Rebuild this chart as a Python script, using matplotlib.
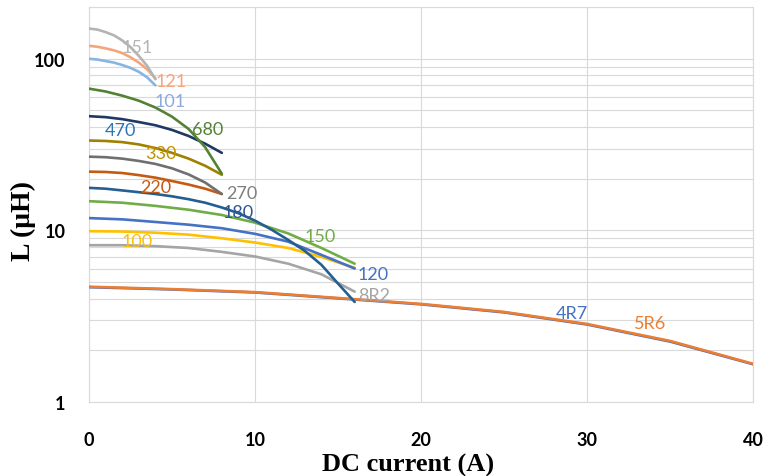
import matplotlib
matplotlib.use('Agg')
import matplotlib.pyplot as plt
from matplotlib.ticker import LogLocator, NullFormatter, FixedLocator

# inductance (uH) vs DC current (A)
x4 = [0, 0.5, 1, 1.5, 2, 2.5, 3, 3.5, 4]
x8 = [0, 1, 2, 3, 4, 5, 6, 7, 8]
x16 = [0, 2, 4, 6, 8, 10, 12, 14, 16]
x16b = [0, 1, 2, 3, 4, 5, 6, 7, 8, 9, 10, 11, 12, 13, 14, 15, 16]
x40 = [0, 5, 10, 15, 20, 25, 30, 35, 40]

l151 = [150, 148, 143, 137, 128, 117, 104, 91, 76]
l121 = [119, 117.5, 115, 112, 108, 102, 95, 87, 77]
l101 = [100, 99, 97, 95, 92, 88.5, 84, 78, 70]
l680 = [67, 64.5, 61, 57, 52, 46, 39, 30.5, 21.4]
l470 = [46.3, 45.7, 44.5, 42.8, 41, 38.5, 35.5, 32, 28.3]
l330 = [33.4, 33.2, 32.7, 31.7, 30.2, 28.3, 26.2, 23.8, 21.1]
l270 = [26.9, 26.7, 26.2, 25.4, 24.4, 23, 21.2, 19, 16.3]
l220 = [22, 21.9, 21.6, 21, 20.3, 19.4, 18.5, 17.5, 16.3]
l180 = [17.7, 17.5, 17.1, 16.7, 16.3, 15.8, 15.2, 14.5, 13.6,
        12.6, 11.4, 10.1, 8.8, 7.6, 6.3, 4.9, 3.83]
l150 = [14.8, 14.5, 13.9, 13.2, 12.3, 11.1, 9.6, 7.9, 6.4]
l120 = [11.8, 11.6, 11.2, 10.8, 10.3, 9.55, 8.6, 7.2, 6.0]
l100 = [9.9, 9.85, 9.7, 9.45, 9.0, 8.5, 7.9, 7.0, 6.05]
l8r2 = [8.2, 8.2, 8.1, 7.9, 7.5, 7.05, 6.4, 5.55, 4.4]
l4r7 = [4.67, 4.53, 4.35, 4.02, 3.71, 3.33, 2.83, 2.25, 1.66]
l5r6 = [4.7, 4.55, 4.37, 4.04, 3.73, 3.35, 2.85, 2.27, 1.67]

# (name, x, y, line colour, label colour, label x, label y)
series = [
    ('4R7', x40, l4r7, '#4472C4', '#4472C4', 29.1, 3.30),
    ('5R6', x40, l5r6, '#ED7D31', '#ED7D31', 33.8, 2.89),
    ('8R2', x16, l8r2, '#A5A5A5', '#A5A5A5', 17.2, 4.21),
    ('100', x16, l100, '#FFC000', '#FFC000', 2.9, 8.69),
    ('120', x16, l120, '#4472C4', '#4472C4', 17.1, 5.58),
    ('150', x16, l150, '#70AD47', '#70AD47', 13.9, 9.29),
    ('180', x16b, l180, '#255E91', '#2F5597', 9.0, 12.8),
    ('220', x8, l220, '#C55A11', '#C55A11', 4.0, 17.9),
    ('270', x8, l270, '#6F6F6F', '#7F7F7F', 9.2, 16.5),
    ('330', x8, l330, '#A08000', '#BF9000', 4.35, 28.3),
    ('470', x8, l470, '#203864', '#2E75B6', 1.9, 38.6),
    ('680', x8, l680, '#548235', '#548235', 7.17, 39.1),
    ('101', x4, l101, '#86B4E3', '#8EA9DB', 4.9, 56.5),
    ('121', x4, l121, '#F5A57C', '#F5A57C', 4.95, 74.4),
    ('151', x4, l151, '#B4B4B4', '#B4B4B4', 2.9, 117.5),
]

fig = plt.figure(figsize=(7.67, 4.77), dpi=100)
ax = fig.add_axes([0.116, 0.155, 0.866, 0.828])

for name, xs, ys, lc, tc, tx, ty in series:
    ax.plot(xs, ys, color=lc, lw=1.9, solid_capstyle='round',
            solid_joinstyle='round', zorder=3)
    ax.text(tx, ty, name, color=tc, fontsize=13, family='Lato',
            ha='center', va='center', zorder=4)

ax.set_yscale('log')
ax.set_xlim(0, 40)
ax.set_ylim(1, 200)
ax.xaxis.set_major_locator(FixedLocator([0, 10, 20, 30, 40]))
ax.yaxis.set_major_locator(FixedLocator([1, 10, 100]))
ax.yaxis.set_major_formatter(plt.FuncFormatter(lambda v, p: '%d' % v))
ax.yaxis.set_minor_locator(LogLocator(base=10, subs=range(2, 10)))
ax.yaxis.set_minor_formatter(NullFormatter())

ax.grid(True, which='both', axis='y', color='#D9D9D9', lw=0.8)
ax.grid(True, which='major', axis='x', color='#D9D9D9', lw=0.8)
ax.set_axisbelow(True)
for s in ax.spines.values():
    s.set_color('#D9D9D9')
    s.set_linewidth(0.8)

ax.tick_params(axis='both', which='both', length=0)
ax.tick_params(axis='y', pad=17)
ax.tick_params(axis='x', pad=21)
for lab in ax.get_xticklabels() + ax.get_yticklabels():
    lab.set_fontfamily('Lato')
    lab.set_fontweight('bold')
    lab.set_fontsize(13)

ax.set_xlabel('DC current (A)', family='Liberation Serif', fontweight='bold',
              fontsize=19, va='center')
ax.xaxis.set_label_coords(0.48, -0.158)
ax.set_ylabel('L (μH)', family='Liberation Serif', fontweight='bold',
              fontsize=20, va='center')
ax.yaxis.set_label_coords(-0.099, 0.461)

fig.savefig('out.png', dpi=100)
